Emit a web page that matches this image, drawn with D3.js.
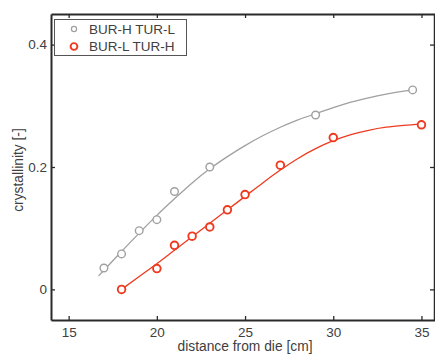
<!DOCTYPE html>
<html>
<head>
<meta charset="utf-8">
<script src="https://cdn.jsdelivr.net/npm/d3@7"></script>
<style>
  body { margin: 0; background: #fff; }
  text { font-family: "Liberation Sans", Arial, sans-serif; fill: #404040; }
</style>
</head>
<body>
<div class="chart"></div>
<script>
// crystallinity vs distance from die
var svgWidth = 435;
var svgHeight = 354;

// measured points
var distHL = [17, 18, 19, 20, 21, 23, 29, 34.5];
var crysHL = [0.035, 0.058, 0.096, 0.114, 0.160, 0.200, 0.285, 0.326];
var distLH = [18, 20, 21, 22, 23, 24, 25, 27, 30, 35];
var crysLH = [0.0, 0.034, 0.072, 0.087, 0.102, 0.130, 0.155, 0.203, 0.248, 0.269];

// fitted curves
var fitDistHL = [16.7, 18, 19, 20, 21, 22, 23, 24, 25, 26, 27, 28, 29, 30, 31, 32, 33, 34, 34.5];
var fitCrysHL = [0.022, 0.062, 0.092, 0.121, 0.148, 0.174, 0.197, 0.217, 0.235, 0.251, 0.265, 0.277, 0.287, 0.297, 0.306, 0.313, 0.319, 0.324, 0.326];
var fitDistLH = [18, 19, 20, 21, 22, 23, 24, 25, 26, 27, 28, 29, 30, 31, 32, 33, 34, 35];
var fitCrysLH = [0.0, 0.021, 0.042, 0.064, 0.086, 0.108, 0.130, 0.152, 0.174, 0.195, 0.214, 0.230, 0.243, 0.253, 0.260, 0.265, 0.268, 0.270];

var seriesNames = ["BUR-H TUR-L", "BUR-L TUR-H"];
var xTicks = [15, 20, 25, 30, 35];
var yTicks = [0, 0.2, 0.4];

var grayColor = "#a0a0a0";
var redColor = "#ee3a1f";

var svg = d3.select(".chart")
  .append("svg")
  .attr("width", svgWidth)
  .attr("height", svgHeight);

var x = d3.scaleLinear().domain([14, 36]).range([51, 439.1]);
var y = d3.scaleLinear().domain([-0.05, 0.45]).range([320, 14]);

function pairs(xs, ys) {
  return xs.map((d, i) => ({ x: d, y: ys[i] }));
}

var line = d3.line()
  .x(d => x(d.x))
  .y(d => y(d.y))
  .curve(d3.curveMonotoneX);

// fit lines
svg.append("path")
  .datum(pairs(fitDistHL, fitCrysHL))
  .attr("d", line)
  .attr("fill", "none")
  .attr("stroke", grayColor)
  .attr("stroke-width", 1.3);

svg.append("path")
  .datum(pairs(fitDistLH, fitCrysLH))
  .attr("d", line)
  .attr("fill", "none")
  .attr("stroke", redColor)
  .attr("stroke-width", 1.3);

// markers
svg.append("g").selectAll("circle")
  .data(pairs(distHL, crysHL))
  .enter()
  .append("circle")
  .attr("cx", d => x(d.x))
  .attr("cy", d => y(d.y))
  .attr("r", 3.8)
  .attr("fill", "#fff")
  .attr("stroke", grayColor)
  .attr("stroke-width", 1.4);

svg.append("g").selectAll("circle")
  .data(pairs(distLH, crysLH))
  .enter()
  .append("circle")
  .attr("cx", d => x(d.x))
  .attr("cy", d => y(d.y))
  .attr("r", 3.8)
  .attr("fill", "#fff")
  .attr("stroke", redColor)
  .attr("stroke-width", 1.9);

// axes, ticks pointing inward
var axisColor = "#2a2a2a";
var fmt = d3.format("");

var bottomAxis = svg.append("g")
  .attr("transform", "translate(0,320)")
  .call(d3.axisBottom(x).tickValues(xTicks).tickSizeInner(-4).tickSizeOuter(0).tickPadding(7).tickFormat(fmt));
var topAxis = svg.append("g")
  .attr("transform", "translate(0,14)")
  .call(d3.axisTop(x).tickValues(xTicks).tickSizeInner(-4).tickSizeOuter(0).tickFormat(""));
var leftAxis = svg.append("g")
  .attr("transform", "translate(51,0)")
  .call(d3.axisLeft(y).tickValues(yTicks).tickSizeInner(-4).tickSizeOuter(0).tickPadding(4).tickFormat(fmt));
var rightAxis = svg.append("g")
  .attr("transform", "translate(434,0)")
  .call(d3.axisRight(y).tickValues(yTicks).tickSizeInner(-4).tickSizeOuter(0).tickFormat(""));

[bottomAxis, topAxis, leftAxis, rightAxis].forEach(function (a) {
  a.select(".domain").attr("stroke", axisColor).attr("stroke-width", 2);
  a.selectAll(".tick line").attr("stroke", axisColor).attr("stroke-width", 1.3);
  a.selectAll(".tick text")
    .attr("fill", "#404040")
    .style("font-size", "13.5px")
    .style("font-family", "'Liberation Sans', Arial, sans-serif");
});
// right edge of the box sits on the window border
rightAxis.select(".domain").attr("stroke-width", 1.5);

// axis labels
svg.append("text")
  .attr("x", 245)
  .attr("y", 351)
  .attr("text-anchor", "middle")
  .style("font-size", "13.8px")
  .text("distance from die [cm]");

svg.append("text")
  .attr("transform", "translate(23,170) rotate(-90)")
  .attr("text-anchor", "middle")
  .style("font-size", "13.8px")
  .text("crystallinity [-]");

// legend
var legend = svg.append("g");
legend.append("rect")
  .attr("x", 54.5)
  .attr("y", 19.5)
  .attr("width", 132)
  .attr("height", 36)
  .attr("fill", "#fff")
  .attr("stroke", "#555")
  .attr("stroke-width", 1);

var legendColors = [grayColor, redColor];
var legendR = [2.6, 3.4];
var legendSW = [1.2, 1.9];
seriesNames.forEach(function (name, i) {
  var ly = 29 + i * 17.5;
  legend.append("circle")
    .attr("cx", 74)
    .attr("cy", ly)
    .attr("r", legendR[i])
    .attr("fill", "#fff")
    .attr("stroke", legendColors[i])
    .attr("stroke-width", legendSW[i]);
  legend.append("text")
    .attr("x", 89)
    .attr("y", ly + 4.8)
    .style("font-size", "13.5px")
    .text(name);
});
</script>
</body>
</html>
